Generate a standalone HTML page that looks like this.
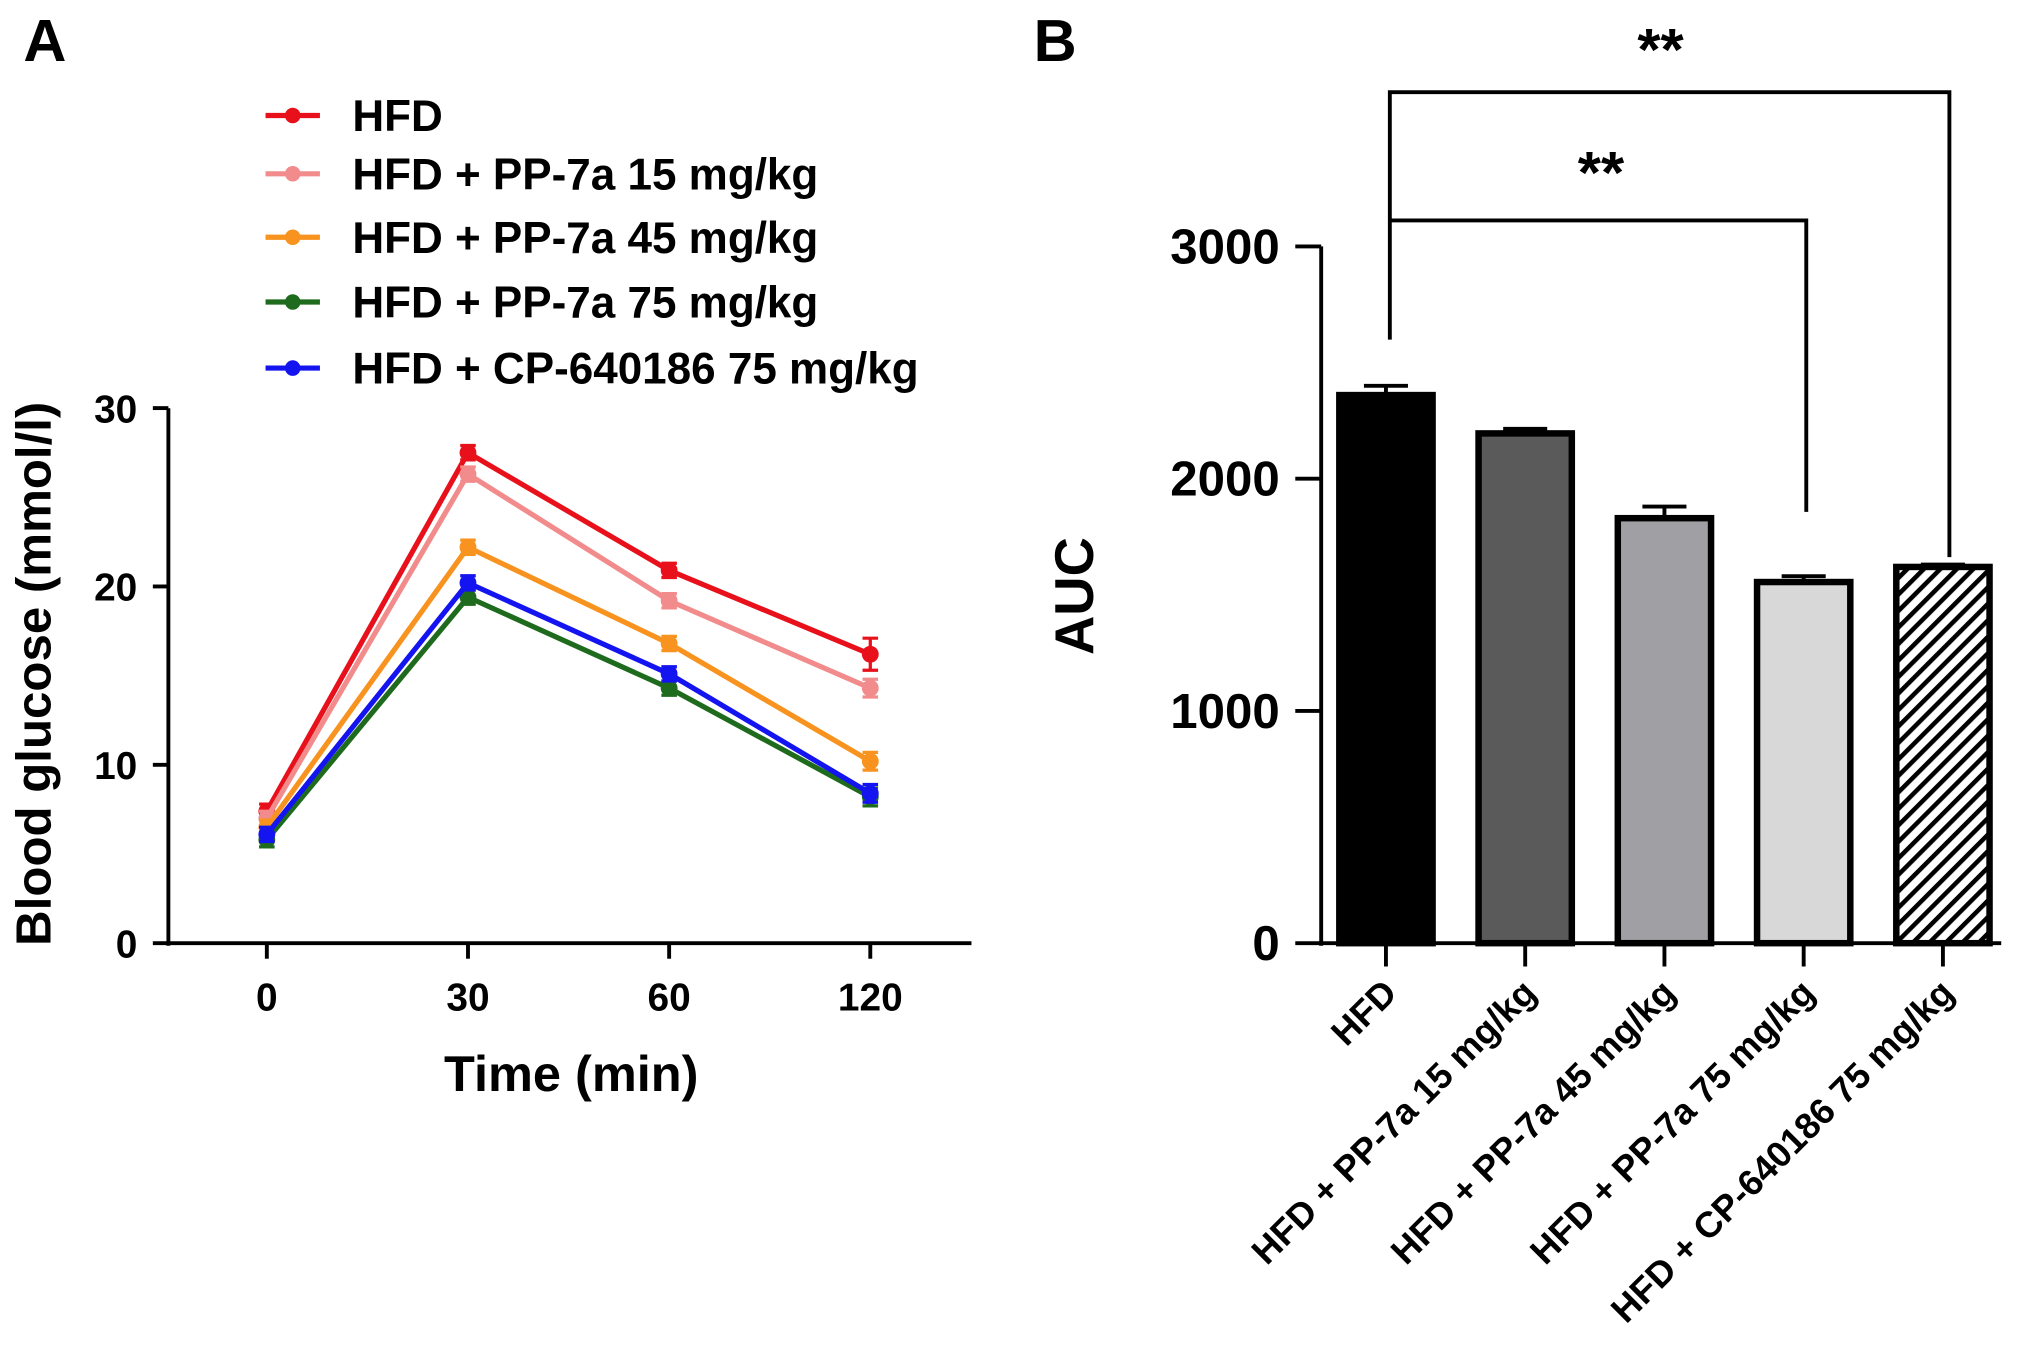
<!DOCTYPE html>
<html><head><meta charset="utf-8"><style>html,body{margin:0;padding:0;background:#fff}svg{display:block}text{font-family:"Liberation Sans",Arial,sans-serif;font-weight:bold}</style></head>
<body>
<svg id="fig" width="2031" height="1354" viewBox="0 0 1568 1045" xmlns="http://www.w3.org/2000/svg">
<defs><pattern id="hatch" patternUnits="userSpaceOnUse" width="9" height="9" patternTransform="rotate(45)"><rect width="9" height="9" fill="#fff"/><rect width="3.5" height="9" fill="#000"/></pattern></defs>
<text x="18" y="47" font-size="46">A</text>
<text x="798" y="47" font-size="46">B</text>
<g id="A"></g><g id="B"></g>
</svg>
<script>
const NS='http://www.w3.org/2000/svg';
const times=['0','30','60','120'];
const seriesNames=['HFD','HFD + PP-7a 15 mg/kg','HFD + PP-7a 45 mg/kg','HFD + PP-7a 75 mg/kg','HFD + CP-640186 75 mg/kg'];
const hfd=[7.4,27.5,20.9,16.2];
const pp15=[7.0,26.3,19.2,14.3];
const pp45=[6.5,22.2,16.8,10.2];
const pp75=[5.8,19.4,14.3,8.2];
const cp=[6.1,20.2,15.1,8.4];
const errA=[0.4,0.4,0.4,0.5];
const yTicksA=[0,10,20,30];
const barCats=['HFD','HFD + PP-7a 15 mg/kg','HFD + PP-7a 45 mg/kg','HFD + PP-7a 75 mg/kg','HFD + CP-640186 75 mg/kg'];
const auc=[2360,2195,1830,1555,1620];
const aucErr=[40,20,50,25,10];
const yTicksB=[0,1000,2000,3000];
const colors=['#e8101a','#f28c8c','#f7931e','#1e6b1e','#1414f0'];
const fills=['#000','#5a5a5a','#a0a0a4','#d8d8d8','url(#hatch)'];
function el(p,t,a,txt){const e=document.createElementNS(NS,t);for(const k in a)e.setAttribute(k,a[k]);if(txt!=null)e.textContent=txt;p.appendChild(e);return e;}
const A=document.getElementById('A');
const xA=i=>206+i*155.3;
const yA=v=>728-v*13.77;
el(A,'line',{x1:130,y1:315,x2:130,y2:730,stroke:'#000','stroke-width':3});
el(A,'line',{x1:128,y1:728,x2:750,y2:728,stroke:'#000','stroke-width':3});
yTicksA.forEach(v=>{const l=el(A,'line',{x1:118,y1:yA(v),x2:130,y2:yA(v),stroke:'#000','stroke-width':3});

const t=el(A,'text',{x:106,y:yA(v)+11,'font-size':30,'text-anchor':'end'},v);
});
times.forEach((s,i)=>{const l=el(A,'line',{x1:xA(i),y1:728,x2:xA(i),y2:740,stroke:'#000','stroke-width':3});

const t=el(A,'text',{x:xA(i),y:780,'font-size':30,'text-anchor':'middle'},s);
});
let t=el(A,'text',{x:441,y:842,'font-size':39,'text-anchor':'middle'},'Time (min)');

t=el(A,'text',{x:0,y:0,'font-size':38,'text-anchor':'middle',transform:'translate(39,520) rotate(-90)'},'Blood glucose (mmol/l)');

[hfd,pp15,pp45,pp75,cp].forEach((d,s)=>{
const g=el(A,'g',{});
el(g,'polyline',{points:d.map((v,i)=>xA(i)+','+yA(v)).join(' '),fill:'none',stroke:colors[s],'stroke-width':4});
d.forEach((v,i)=>{const e=errA[i]*13.77*(s==0&&i==3?1.8:1);
el(g,'path',{d:`M${xA(i)} ${yA(v)-e}V${yA(v)+e}M${xA(i)-6} ${yA(v)-e}h12M${xA(i)-6} ${yA(v)+e}h12`,stroke:colors[s],'stroke-width':2.5});
const p=el(g,'circle',{cx:xA(i),cy:yA(v),r:6.5,fill:colors[s]});
});
const ly=[89,134,183,233,284][s];
const lg=el(A,'g',{});
el(lg,'line',{x1:205,y1:ly,x2:247,y2:ly,stroke:colors[s],'stroke-width':4});
el(lg,'circle',{cx:226,cy:ly,r:6,fill:colors[s]});
el(lg,'text',{x:272,y:ly+12,'font-size':34},seriesNames[s]);});
const B=document.getElementById('B');
const yB=v=>728-v*0.1793;
const xB=i=>1070+i*107.5;
el(B,'line',{x1:1020,y1:190,x2:1020,y2:730,stroke:'#000','stroke-width':3});
el(B,'line',{x1:1018,y1:728,x2:1545,y2:728,stroke:'#000','stroke-width':3});
yTicksB.forEach(v=>{const l=el(B,'line',{x1:1000,y1:yB(v),x2:1020,y2:yB(v),stroke:'#000','stroke-width':3});

const t=el(B,'text',{x:988,y:yB(v)+13,'font-size':38,'text-anchor':'end'},v);
});
t=el(B,'text',{x:0,y:0,'font-size':42,'text-anchor':'middle',transform:'translate(844,460) rotate(-90)'},'AUC');

auc.forEach((v,i)=>{const x=xB(i),e=aucErr[i]*0.1793;
el(B,'path',{d:`M${x} ${yB(v)}V${yB(v)-e}M${x-17} ${yB(v)-e}h34`,stroke:'#000','stroke-width':3});
const r=el(B,'rect',{x:x-36,y:yB(v),width:72,height:728-yB(v),fill:fills[i],stroke:'#000','stroke-width':5});

const l=el(B,'line',{x1:x,y1:728,x2:x,y2:746,stroke:'#000','stroke-width':3});

const tt=el(B,'text',{x:0,y:0,'font-size':28,'text-anchor':'end',transform:`translate(${x+10},${768}) rotate(-45)`},barCats[i]);
});
const br=el(B,'g',{});
el(br,'path',{d:`M${xB(0)+3} 262V71H${xB(4)+5}V430M${xB(0)+3} 170H${xB(3)+2}V395`,fill:'none',stroke:'#000','stroke-width':3});
t=el(br,'text',{x:1282,y:54,'font-size':46,'text-anchor':'middle','font-family':'Liberation Serif','font-weight':'normal'},'**');

t=el(br,'text',{x:1236,y:149,'font-size':46,'text-anchor':'middle','font-family':'Liberation Serif','font-weight':'normal'},'**');

</script>
</body></html>
